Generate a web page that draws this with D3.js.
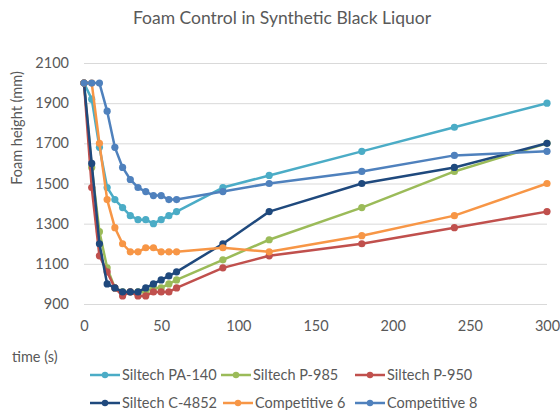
<!DOCTYPE html>
<html><head><meta charset="utf-8">
<script src="https://cdn.jsdelivr.net/npm/d3@7"></script>
<style>body{margin:0;background:#fff;} text{font-family:Lato,"Open Sans",sans-serif;fill:#595959;}</style>
</head><body><svg id="c" width="560" height="410"></svg>
<script>
const times = [0,5,10,15,20,25,30,35,40,45,50,55,60,90,120,180,240,300];
const seriesNames = ["Siltech PA-140","Siltech P-985","Siltech P-950","Siltech C-4852","Competitive 6","Competitive 8"];
const pa140  = [2000,1920,1680,1480,1420,1380,1340,1320,1320,1300,1320,1340,1360,1480,1540,1660,1780,1900];
const p985   = [2000,1580,1260,1080,980,960,960,960,960,980,980,1000,1020,1120,1220,1380,1560,1700];
const p950   = [2000,1480,1140,1060,980,940,960,940,940,960,960,960,980,1080,1140,1200,1280,1360];
const c4852  = [2000,1600,1200,1000,980,960,960,960,980,1000,1020,1040,1060,1200,1360,1500,1580,1700];
const comp6  = [2000,2000,1700,1420,1280,1200,1160,1160,1180,1180,1160,1160,1160,1180,1160,1240,1340,1500];
const comp8  = [2000,2000,2000,1860,1680,1580,1520,1480,1460,1440,1440,1420,1420,1460,1500,1560,1640,1660];
const colors = ["#4BACC6","#9BBB59","#C0504D","#1F497D","#F79646","#4F81BD"];
const yTicks = [900,1100,1300,1500,1700,1900,2100];
const xTicks = [0,50,100,150,200,250,300];
const allSeries = [pa140,p985,p950,c4852,comp6,comp8];

const svg = d3.select("#c");
const x = d3.scaleLinear().domain([0,300]).range([84,547]);
const y = d3.scaleLinear().domain([900,2100]).range([304,63]);

svg.append("text").attr("x",282).attr("y",24).attr("text-anchor","middle")
  .style("font-size","17.5px").text("Foam Control in Synthetic Black Liquor");

const yAxis = d3.axisLeft(y).tickValues(yTicks).tickSize(-(547-84)).tickPadding(15).tickFormat(d3.format("d"));
const gy = svg.append("g").attr("transform","translate(84,0)").call(yAxis);
gy.select(".domain").remove();
gy.selectAll(".tick line").attr("stroke","#d9d9d9");
gy.selectAll(".tick text").style("font-size","14.5px").attr("fill","#595959").style("font-family","Lato");

const xAxis = d3.axisBottom(x).tickValues(xTicks).tickSize(0).tickPadding(17);
const gx = svg.append("g").attr("transform","translate(0,304)").call(xAxis);
gx.select(".domain").remove();
gx.selectAll(".tick text").style("font-size","14.5px").attr("fill","#595959").style("font-family","Lato");

svg.append("text").attr("transform","translate(22,128) rotate(-90)").attr("text-anchor","middle")
  .style("font-size","14.5px").text("Foam height (mm)");
svg.append("text").attr("x",12).attr("y",362).style("font-size","14.5px").text("time (s)");

const line = d3.line().x((d,i)=>x(times[i])).y(d=>y(d));
allSeries.forEach((s,k)=>{
  const g = svg.append("g");
  g.append("path").datum(s).attr("d",line).attr("fill","none").attr("stroke",colors[k]).attr("stroke-width",2.5).attr("stroke-linejoin","round");
  g.selectAll("circle").data(s).enter().append("circle")
    .attr("cx",(d,i)=>x(times[i])).attr("cy",d=>y(d)).attr("r",3.6).attr("fill",colors[k]);
});

const legPos = [[90,375],[221,375],[355,375],[90,403],[223,403],[355,403]];
seriesNames.forEach((n,k)=>{
  const [lx,ly] = legPos[k];
  const g = svg.append("g").attr("transform",`translate(${lx},${ly})`);
  g.append("line").attr("x1",0).attr("x2",30).attr("y1",0).attr("y2",0).attr("stroke",colors[k]).attr("stroke-width",2.5);
  g.append("circle").attr("cx",15).attr("cy",0).attr("r",3.2).attr("fill",colors[k]);
  g.append("text").attr("x",32).attr("y",5).style("font-size","14.5px").text(n);
});
</script></body></html>
